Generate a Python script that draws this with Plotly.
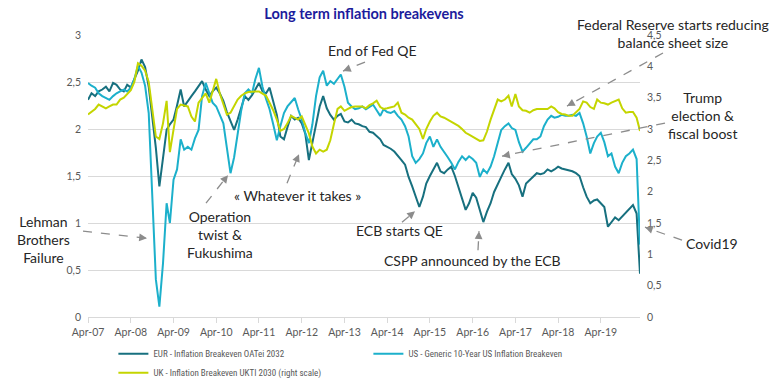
import pandas as pd
import plotly.graph_objects as go

# Monthly observations, Apr 2007 -> Mar 2020
dates = pd.date_range("2007-04-01", periods=156, freq="MS")

eur = [2.31, 2.38, 2.35, 2.40, 2.42, 2.45, 2.40, 2.49, 2.47, 2.42, 2.40, 2.47,
       2.44, 2.53, 2.62, 2.74, 2.66, 2.45, 2.15, 1.80, 1.39, 1.71, 1.99, 2.05,
       2.10, 2.25, 2.42, 2.24, 2.30, 2.35, 2.40, 2.45, 2.51, 2.42, 2.35, 2.40,
       2.44, 2.38, 2.30, 2.18, 2.08, 1.99, 2.10, 2.24, 2.35, 2.31, 2.36, 2.42,
       2.49, 2.40, 2.38, 2.44, 2.28, 2.15, 1.92, 1.89, 2.02, 2.14, 2.10, 2.12,
       2.06, 1.95, 1.67, 1.85, 2.02, 2.24, 2.35, 2.22, 2.15, 2.10, 2.14, 2.16,
       2.08, 2.07, 2.10, 2.06, 2.05, 2.03, 2.02, 1.97, 1.96, 1.92, 1.89, 1.83,
       1.81, 1.79, 1.76, 1.72, 1.67, 1.62, 1.49, 1.39, 1.28, 1.17, 1.28, 1.42,
       1.50, 1.57, 1.64, 1.55, 1.53, 1.57, 1.60, 1.50, 1.38, 1.28, 1.14, 1.21,
       1.32, 1.27, 1.15, 1.01, 1.12, 1.21, 1.33, 1.42, 1.49, 1.57, 1.64, 1.52,
       1.47, 1.40, 1.28, 1.42, 1.46, 1.49, 1.53, 1.52, 1.53, 1.57, 1.55, 1.57,
       1.60, 1.58, 1.57, 1.56, 1.55, 1.53, 1.50, 1.38, 1.28, 1.21, 1.24, 1.25,
       1.21, 1.17, 0.96, 1.01, 1.06, 1.03, 1.07, 1.10, 1.15, 1.19, 1.10, 0.46]

us = [2.49, 2.46, 2.44, 2.38, 2.35, 2.33, 2.31, 2.35, 2.38, 2.40, 2.42, 2.40,
      2.44, 2.53, 2.67, 2.60, 2.46, 2.17, 1.30, 0.40, 0.11, 0.57, 1.21, 1.00,
      1.46, 1.57, 1.89, 1.78, 1.81, 1.78, 1.90, 1.99, 2.35, 2.49, 2.38, 2.28,
      2.24, 2.15, 2.06, 1.80, 1.53, 1.70, 1.95, 2.20, 2.38, 2.42, 2.38, 2.53,
      2.65, 2.45, 2.32, 2.21, 2.05, 1.88, 2.03, 2.17, 2.24, 2.28, 2.33, 2.21,
      2.10, 1.96, 1.85, 2.05, 2.35, 2.55, 2.62, 2.46, 2.51, 2.48, 2.54, 2.58,
      2.45, 2.28, 2.24, 2.21, 2.22, 2.24, 2.21, 2.24, 2.26, 2.20, 2.14, 2.21,
      2.18, 2.17, 2.19, 2.14, 2.10, 2.03, 1.92, 1.71, 1.64, 1.68, 1.74, 1.85,
      1.92, 1.81, 1.89, 1.81, 1.76, 1.70, 1.64, 1.57, 1.65, 1.71, 1.67, 1.71,
      1.68, 1.64, 1.49, 1.57, 1.53, 1.60, 1.71, 1.85, 1.99, 2.03, 2.06, 2.01,
      1.99, 1.86, 1.76, 1.80, 1.85, 1.89, 1.89, 1.92, 2.03, 2.10, 2.14, 2.12,
      2.13, 2.15, 2.14, 2.14, 2.15, 2.14, 2.17, 2.06, 1.92, 1.74, 1.85, 1.92,
      1.96, 1.86, 1.71, 1.74, 1.60, 1.53, 1.64, 1.71, 1.74, 1.78, 1.68, 0.77]

uk = [3.23, 3.27, 3.32, 3.39, 3.36, 3.33, 3.36, 3.39, 3.39, 3.47, 3.50, 3.56,
      3.62, 3.75, 4.05, 4.01, 3.93, 3.75, 3.30, 2.88, 2.84, 3.09, 3.45, 2.63,
      2.99, 3.32, 3.39, 3.38, 3.36, 3.20, 3.12, 3.42, 3.50, 3.57, 3.42, 3.60,
      3.80, 3.57, 3.38, 3.23, 3.26, 3.36, 3.47, 3.53, 3.57, 3.59, 3.60, 3.60,
      3.60, 3.56, 3.53, 3.42, 3.30, 3.15, 2.97, 3.00, 3.09, 3.21, 3.18, 3.15,
      3.20, 3.08, 2.93, 2.72, 2.61, 2.67, 2.64, 2.67, 2.82, 3.08, 3.32, 3.36,
      3.29, 3.32, 3.35, 3.36, 3.36, 3.36, 3.33, 3.38, 3.41, 3.45, 3.35, 3.32,
      3.33, 3.35, 3.36, 3.42, 3.26, 3.23, 3.18, 3.15, 3.08, 3.00, 2.84, 3.00,
      3.12, 3.21, 3.26, 3.20, 3.18, 3.15, 3.12, 3.09, 3.05, 3.00, 2.94, 2.91,
      2.88, 2.85, 2.81, 2.82, 2.96, 3.15, 3.32, 3.47, 3.44, 3.47, 3.53, 3.36,
      3.56, 3.36, 3.30, 3.29, 3.26, 3.30, 3.32, 3.32, 3.33, 3.32, 3.36, 3.33,
      3.27, 3.24, 3.23, 3.21, 3.21, 3.26, 3.32, 3.44, 3.42, 3.35, 3.32, 3.47,
      3.42, 3.41, 3.39, 3.42, 3.45, 3.47, 3.33, 3.26, 3.27, 3.27, 3.18, 2.97]

names = ["EUR - Inflation Breakeven OATei 2032",
         "US - Generic 10-Year US Inflation Breakeven",
         "UK - Inflation Breakeven UKTI 2030 (right scale)"]
colors = ["#17707F", "#1CB0CB", "#C4D500"]

W, H = 775, 387
L, R, T, B = 88, 640, 35, 316.7


def px(X):
    return (X - L) / (R - L)


def py(Y):
    return (B - Y) / (B - T)


fig = go.Figure()
fig.add_trace(go.Scatter(x=dates, y=uk, name=names[2], yaxis="y2", mode="lines",
                         line=dict(color=colors[2], width=2), legendrank=3))
fig.add_trace(go.Scatter(x=dates, y=eur, name=names[0], mode="lines",
                         line=dict(color=colors[0], width=2), legendrank=1))
fig.add_trace(go.Scatter(x=dates, y=us, name=names[1], mode="lines",
                         line=dict(color=colors[1], width=2), legendrank=2))

txt_font = dict(family="Lato, Open Sans, sans-serif", size=14, color="#262626")
notes = [
    ("End of Fed QE", 372, 50),
    ("Federal Reserve starts reducing<br>balance sheet size", 673, 34),
    ("Trump<br>election &<br>fiscal boost", 702, 115),
    ("« Whatever it takes »", 297, 195),
    ("Operation<br>twist &<br>Fukushima", 220, 234),
    ("Lehman<br>Brothers<br>Failure", 43, 239),
    ("ECB starts QE", 399, 230),
    ("CSPP announced by the ECB", 472, 260),
    ("Covid19", 712, 243),
]
for t, X, Y in notes:
    fig.add_annotation(text=t, x=px(X), y=py(Y), xref="paper", yref="paper",
                       showarrow=False, xanchor="center", yanchor="middle",
                       font=txt_font, align="center")

arrows = [((365, 62), (343, 71)), ((663, 53), (567, 106)), ((665, 123), (502, 156)),
          ((287, 183), (299, 154)), ((206, 203), (228, 175)), ((83, 231), (147, 238)),
          ((402, 222), (415, 211)), ((478, 250), (479, 231)), ((682, 240), (645, 227))]
for (tx, ty), (hx, hy) in arrows:
    fig.add_shape(type="line", xref="paper", yref="paper",
                  x0=px(tx), y0=py(ty), x1=px(hx), y1=py(hy),
                  line=dict(color="#8c8c8c", width=1.3, dash="dash"))
    dx, dy = tx - hx, ty - hy
    n = (dx * dx + dy * dy) ** 0.5
    fig.add_annotation(text="", x=px(hx), y=py(hy), xref="paper", yref="paper",
                       ax=dx / n * 6, ay=dy / n * 6, showarrow=True,
                       arrowhead=2, arrowsize=1.2, arrowwidth=1.3, arrowcolor="#8c8c8c")

tick_font = dict(family="Lato, Open Sans, sans-serif", size=10.5, color="#595959")
fig.update_layout(
    width=W, height=H,
    margin=dict(l=L, r=W - R, t=T, b=H - B, autoexpand=False),
    paper_bgcolor="white", plot_bgcolor="white",
    separators=", ",
    showlegend=True,
    title=dict(text="<b>Long term inflation breakevens</b>", x=364 / W, y=1 - 14 / H,
               xanchor="center", yanchor="middle", xref="container", yref="container",
               font=dict(family="Lato, Open Sans, sans-serif", size=14.5, color="#1C1C9C")),
    xaxis=dict(type="date", range=["2007-04-01", "2020-03-01"], tick0="2007-04-01",
               dtick="M12", tickformat="%b-%y", showgrid=False, showline=True,
               linecolor="#d9d9d9", linewidth=1, ticks="outside", ticklen=5,
               tickcolor="#d9d9d9", tickfont=tick_font, zeroline=False),
    yaxis=dict(range=[0, 3], dtick=0.5, tick0=0, showgrid=True, gridcolor="#d9d9d9",
               gridwidth=1, zeroline=False, showline=False, tickfont=tick_font,
               ticklabelstandoff=6),
    yaxis2=dict(range=[0, 4.5], dtick=0.5, tick0=0, overlaying="y", side="right",
                showgrid=False, zeroline=False, showline=False, tickfont=tick_font,
                ticklabelstandoff=6),
    legend=dict(orientation="h", x=0.046, y=py(339), xanchor="left", yanchor="top",
                entrywidth=210, entrywidthmode="pixels", itemwidth=30,
                traceorder="normal",
                font=dict(family="Roboto Condensed, Liberation Sans Narrow, Roboto, sans-serif",
                          size=9, color="#595959")),
)
fig.write_html("out.html", config={"displayModeBar": False},
               post_script="document.body.style.margin='0';document.body.style.padding='0';")
